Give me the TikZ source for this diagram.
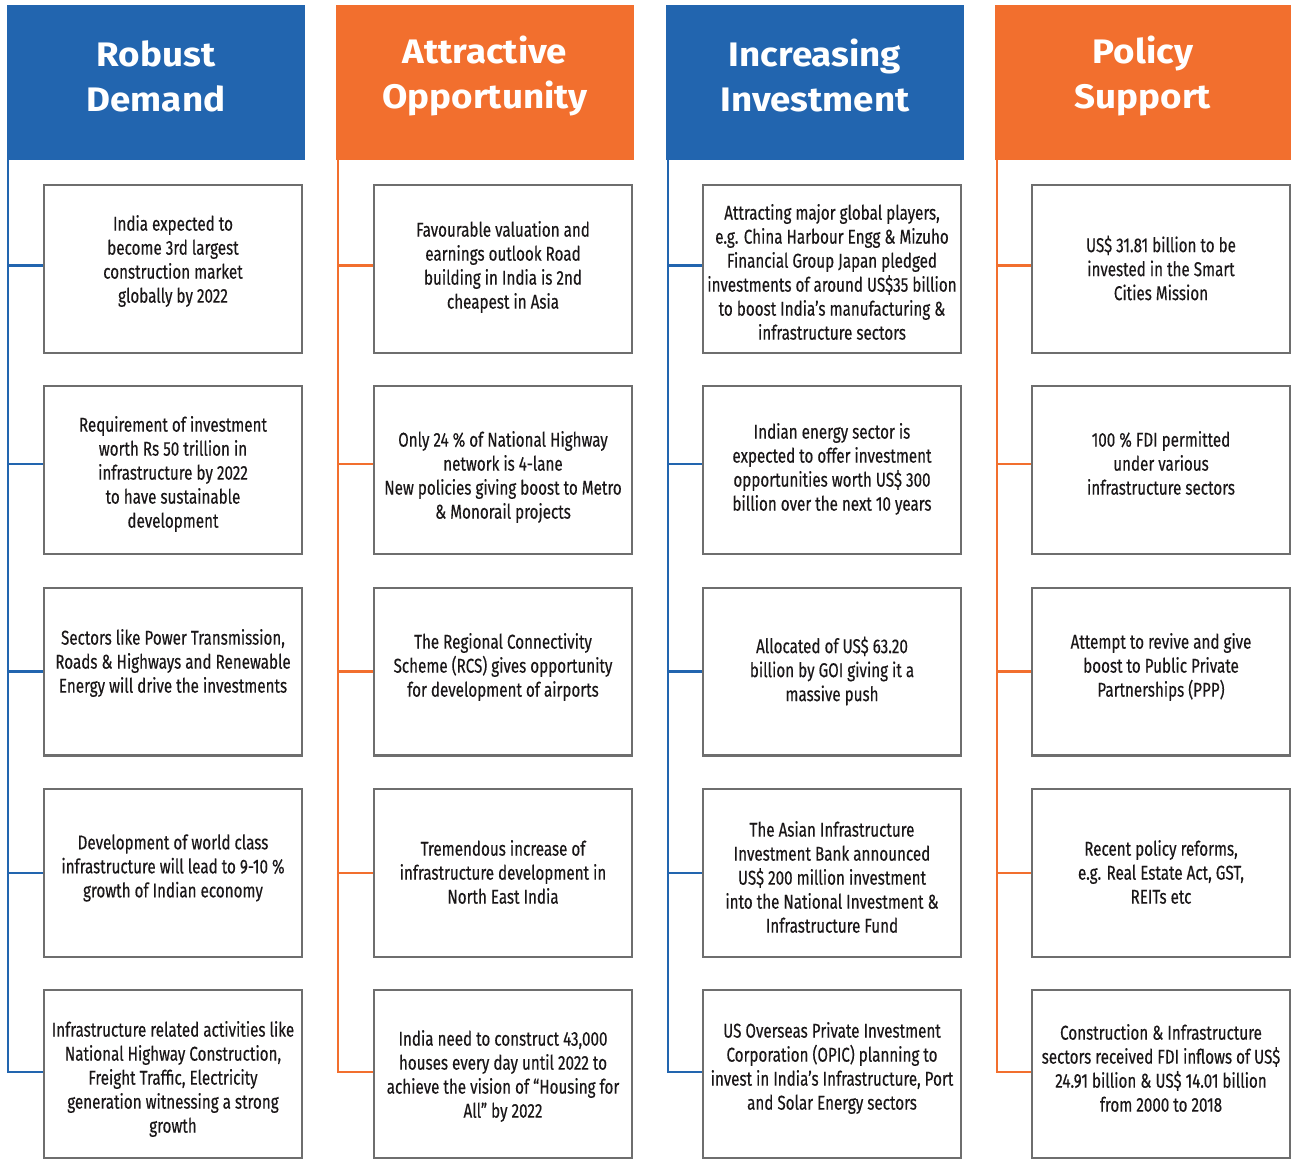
\documentclass[tikz,border=0pt]{standalone}
\usepackage{fontspec}
\setmainfont{Fira Sans}
\newfontfamily\bodyfont[FakeStretch=0.76,FakeBold=0.3]{Fira Sans}
\newfontfamily\headfont[FakeStretch=1.08]{Fira Sans}
\definecolor{hblue}{HTML}{2265AF}
\definecolor{horange}{HTML}{F26F2E}
\definecolor{boxgray}{HTML}{6E6E6E}
\definecolor{txtcol}{HTML}{1A1718}
\begin{document}
\begin{tikzpicture}[x=0.5pt,y=-0.5pt,
  head/.style={fill=#1, draw=none, minimum width=149pt, minimum height=77.5pt, inner sep=0pt, anchor=north west},
  htext/.style={text=white, font=\headfont\bfseries\fontsize{17}{22.5}\selectfont, align=center, inner sep=0pt},
  itembox/.style={draw=boxgray, line width=1.2pt, minimum width=128.8pt, minimum height=83.8pt, inner sep=0pt, fill=white},
  btext/.style={font=\bodyfont\fontsize{10}{12}\selectfont, align=center, text=txtcol, inner sep=0pt, yshift=-1pt},
  spine/.style={draw=#1, line width=1.05pt}
]
\useasboundingbox (0,0) rectangle (1291,1160);
\fill[white] (0,0) rectangle (1291,1160);

% headers
\node[head=hblue] (h1) at (7,5) {};
\node[head=horange] (h2) at (336,5) {};
\node[head=hblue] (h3) at (666,5) {};
\node[head=horange, minimum width=148pt] (h4) at (995,5) {};
\node[htext] (h1t) at (156,76) {Robust\\Demand};
\node[htext] (h2t) at (485,76) {Attractive\\Opportunity};
\node[htext] (h3t) at (815,76) {Increasing\\Investment};
\node[htext] (h4t) at (1143,76) {Policy\\Support};

\coordinate (s1) at (8.3,160);
\coordinate (s2) at (337.8,160);
\coordinate (s3) at (667.8,160);
\coordinate (s4) at (996.8,160);

% column 1
\node[itembox] (b11) at (173,269) {};
\node[itembox] (b12) at (173,470) {};
\node[itembox] (b13) at (173,671.5) {};
\node[itembox] (b14) at (173,873) {};
\node[itembox] (b15) at (173,1074) {};
\node[btext] (t11) at (173,259) {India expected to\\become 3rd largest\\construction market\\globally by 2022};
\node[btext] (t12) at (173,472) {Requirement of investment\\worth Rs 50 trillion in\\infrastructure by 2022\\to have sustainable\\development};
\node[btext] (t13) at (173,661) {Sectors like Power Transmission,\\Roads \& Highways and Renewable\\Energy will drive the investments};
\node[btext] (t14) at (173,866) {Development of world class\\infrastructure will lead to 9-10 \%\\growth of Indian economy};
\node[btext] (t15) at (173,1077) {Infrastructure related activities like\\National Highway Construction,\\Freight Traffic, Electricity\\generation witnessing a strong\\growth};

% column 2
\node[itembox] (b21) at (503,269) {};
\node[itembox] (b22) at (503,470) {};
\node[itembox] (b23) at (503,671.5) {};
\node[itembox] (b24) at (503,873) {};
\node[itembox] (b25) at (503,1074) {};
\node[btext] (t21) at (503,265) {Favourable valuation and\\earnings outlook Road\\building in India is 2nd\\cheapest in Asia};
\node[btext] (t22) at (503,475) {Only 24 \% of National Highway\\network is 4-lane\\New policies giving boost to Metro\\\& Monorail projects};
\node[btext] (t23) at (503,665) {The Regional Connectivity\\Scheme (RCS) gives opportunity\\for development of airports};
\node[btext] (t24) at (503,870) {Tremendous increase of\\infrastructure development in\\North East India};
\node[btext] (t25) at (503,1074) {India need to construct 43,000\\houses every day until 2022 to\\achieve the vision of “Housing for\\All” by 2022};

% column 3
\node[itembox] (b31) at (832,269) {};
\node[itembox] (b32) at (832,470) {};
\node[itembox] (b33) at (832,671.5) {};
\node[itembox] (b34) at (832,873) {};
\node[itembox] (b35) at (832,1074) {};
\node[btext] (t31) at (832,270) {Attracting major global players,\\e.g. China Harbour Engg \& Mizuho\\Financial Group Japan pledged\\investments of around US\$35 billion\\to boost India’s manufacturing \&\\infrastructure sectors};
\node[btext] (t32) at (832,467) {Indian energy sector is\\expected to offer investment\\opportunities worth US\$ 300\\billion over the next 10 years};
\node[btext] (t33) at (832,669) {Allocated of US\$ 63.20\\billion by GOI giving it a\\massive push};
\node[btext] (t34) at (832,875) {The Asian Infrastructure\\Investment Bank announced\\US\$ 200 million investment\\into the National Investment \&\\Infrastructure Fund};
\node[btext] (t35) at (832,1066) {US Overseas Private Investment\\Corporation (OPIC) planning to\\invest in India’s Infrastructure, Port\\and Solar Energy sectors};

% column 4
\node[itembox] (b41) at (1161,269) {};
\node[itembox] (b42) at (1161,470) {};
\node[itembox] (b43) at (1161,671.5) {};
\node[itembox] (b44) at (1161,873) {};
\node[itembox] (b45) at (1161,1074) {};
\node[btext] (t41) at (1161,266) {US\$ 31.81 billion to be\\invested in the Smart\\Cities Mission};
\node[btext] (t42) at (1161,461) {100 \% FDI permitted\\under various\\infrastructure sectors};
\node[btext] (t43) at (1161,665) {Attempt to revive and give\\boost to Public Private\\Partnerships (PPP)};
\node[btext] (t44) at (1161,870) {Recent policy reforms,\\e.g. Real Estate Act, GST,\\REITs etc};
\node[btext] (t45) at (1161,1066) {Construction \& Infrastructure\\sectors received FDI inflows of US\$\\24.91 billion \& US\$ 14.01 billion\\from 2000 to 2018};

% connectors
\foreach \c/\col in {1/hblue,2/horange,3/hblue,4/horange}{
  \foreach \r/\dy in {1/1.75pt,2/3pt,3/0pt,4/0pt,5/1pt}{
    \coordinate (c\c\r) at ([yshift=\dy]b\c\r.west);
  }
  \draw[spine=\col] (s\c) |- (c\c5);
  \foreach \r in {1,2,3,4}{
    \draw[spine=\col] (s\c |- c\c\r) -- (c\c\r);
  }
}
\end{tikzpicture}
\end{document}
